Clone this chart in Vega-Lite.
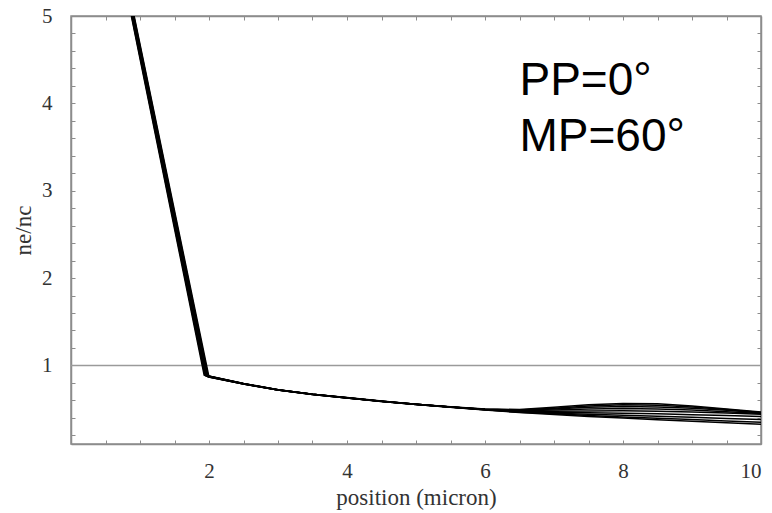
{
  "$schema": "https://vega.github.io/schema/vega-lite/v6.json",
  "width": 690,
  "height": 428,
  "autosize": {"type": "none"},
  "padding": {"left": 71, "top": 16, "right": 11, "bottom": 69},
  "background": "white",
  "config": {
    "view": {"stroke": "#8c8c8c", "strokeWidth": 1.5},
    "axis": {
      "grid": false,
      "domainColor": "#8c8c8c",
      "domainWidth": 1.5,
      "tickColor": "#8c8c8c",
      "tickWidth": 1,
      "tickSize": -4,
      "labelFont": "Liberation Serif",
      "labelFontSize": 21,
      "labelColor": "#333333",
      "titleFont": "Liberation Serif",
      "titleFontSize": 23,
      "titleFontWeight": "normal",
      "titleColor": "#333333",
      "labelOverlap": false
    }
  },
  "resolve": {"axis": {"x": "independent", "y": "independent"}},
  "layer": [
    {
      "data": {"values": [{"y": 1}]},
      "mark": {"type": "rule", "color": "#9a9a9a", "strokeWidth": 1.5},
      "encoding": {
        "y": {"field": "y", "type": "quantitative", "scale": {"domain": [0.1, 5], "nice": false, "zero": false}, "axis": null}
      }
    },
    {
      "data": {"values": [
        {"c":0,"x":0.875,"y":5},{"c":0,"x":1.93,"y":0.89},{"c":0,"x":2.5,"y":0.793},{"c":0,"x":3,"y":0.722},{"c":0,"x":3.5,"y":0.671},{"c":0,"x":4,"y":0.631},{"c":0,"x":4.5,"y":0.591},{"c":0,"x":5,"y":0.556},{"c":0,"x":5.5,"y":0.526},{"c":0,"x":6,"y":0.500},{"c":0,"x":6.5,"y":0.495},{"c":0,"x":7,"y":0.520},{"c":0,"x":7.5,"y":0.550},{"c":0,"x":8,"y":0.565},{"c":0,"x":8.5,"y":0.560},{"c":0,"x":9,"y":0.535},{"c":0,"x":9.5,"y":0.500},{"c":0,"x":10,"y":0.465},
        {"c":1,"x":0.88,"y":5},{"c":1,"x":1.94,"y":0.887},{"c":1,"x":2.5,"y":0.792},{"c":1,"x":3,"y":0.721},{"c":1,"x":3.5,"y":0.671},{"c":1,"x":4,"y":0.630},{"c":1,"x":4.5,"y":0.590},{"c":1,"x":5,"y":0.556},{"c":1,"x":5.5,"y":0.525},{"c":1,"x":6,"y":0.498},{"c":1,"x":6.5,"y":0.490},{"c":1,"x":7,"y":0.510},{"c":1,"x":7.5,"y":0.535},{"c":1,"x":8,"y":0.550},{"c":1,"x":8.5,"y":0.545},{"c":1,"x":9,"y":0.525},{"c":1,"x":9.5,"y":0.495},{"c":1,"x":10,"y":0.460},
        {"c":2,"x":0.885,"y":5},{"c":2,"x":1.95,"y":0.884},{"c":2,"x":2.5,"y":0.791},{"c":2,"x":3,"y":0.720},{"c":2,"x":3.5,"y":0.670},{"c":2,"x":4,"y":0.630},{"c":2,"x":4.5,"y":0.590},{"c":2,"x":5,"y":0.555},{"c":2,"x":5.5,"y":0.525},{"c":2,"x":6,"y":0.497},{"c":2,"x":6.5,"y":0.485},{"c":2,"x":7,"y":0.500},{"c":2,"x":7.5,"y":0.520},{"c":2,"x":8,"y":0.530},{"c":2,"x":8.5,"y":0.525},{"c":2,"x":9,"y":0.510},{"c":2,"x":9.5,"y":0.485},{"c":2,"x":10,"y":0.455},
        {"c":3,"x":0.89,"y":5},{"c":3,"x":1.96,"y":0.881},{"c":3,"x":2.5,"y":0.790},{"c":3,"x":3,"y":0.720},{"c":3,"x":3.5,"y":0.670},{"c":3,"x":4,"y":0.629},{"c":3,"x":4.5,"y":0.589},{"c":3,"x":5,"y":0.555},{"c":3,"x":5.5,"y":0.524},{"c":3,"x":6,"y":0.496},{"c":3,"x":6.5,"y":0.480},{"c":3,"x":7,"y":0.488},{"c":3,"x":7.5,"y":0.500},{"c":3,"x":8,"y":0.505},{"c":3,"x":8.5,"y":0.500},{"c":3,"x":9,"y":0.490},{"c":3,"x":9.5,"y":0.470},{"c":3,"x":10,"y":0.450},
        {"c":4,"x":0.895,"y":5},{"c":4,"x":1.97,"y":0.878},{"c":4,"x":2.5,"y":0.789},{"c":4,"x":3,"y":0.719},{"c":4,"x":3.5,"y":0.669},{"c":4,"x":4,"y":0.629},{"c":4,"x":4.5,"y":0.589},{"c":4,"x":5,"y":0.554},{"c":4,"x":5.5,"y":0.524},{"c":4,"x":6,"y":0.495},{"c":4,"x":6.5,"y":0.476},{"c":4,"x":7,"y":0.475},{"c":4,"x":7.5,"y":0.478},{"c":4,"x":8,"y":0.480},{"c":4,"x":8.5,"y":0.475},{"c":4,"x":9,"y":0.465},{"c":4,"x":9.5,"y":0.455},{"c":4,"x":10,"y":0.440},
        {"c":5,"x":0.90,"y":5},{"c":5,"x":1.975,"y":0.875},{"c":5,"x":2.5,"y":0.789},{"c":5,"x":3,"y":0.719},{"c":5,"x":3.5,"y":0.669},{"c":5,"x":4,"y":0.628},{"c":5,"x":4.5,"y":0.588},{"c":5,"x":5,"y":0.554},{"c":5,"x":5.5,"y":0.523},{"c":5,"x":6,"y":0.494},{"c":5,"x":6.5,"y":0.472},{"c":5,"x":7,"y":0.462},{"c":5,"x":7.5,"y":0.457},{"c":5,"x":8,"y":0.452},{"c":5,"x":8.5,"y":0.445},{"c":5,"x":9,"y":0.435},{"c":5,"x":9.5,"y":0.425},{"c":5,"x":10,"y":0.415},
        {"c":6,"x":0.905,"y":5},{"c":6,"x":1.98,"y":0.872},{"c":6,"x":2.5,"y":0.788},{"c":6,"x":3,"y":0.718},{"c":6,"x":3.5,"y":0.668},{"c":6,"x":4,"y":0.628},{"c":6,"x":4.5,"y":0.588},{"c":6,"x":5,"y":0.553},{"c":6,"x":5.5,"y":0.523},{"c":6,"x":6,"y":0.493},{"c":6,"x":6.5,"y":0.468},{"c":6,"x":7,"y":0.452},{"c":6,"x":7.5,"y":0.440},{"c":6,"x":8,"y":0.430},{"c":6,"x":8.5,"y":0.418},{"c":6,"x":9,"y":0.405},{"c":6,"x":9.5,"y":0.392},{"c":6,"x":10,"y":0.380},
        {"c":7,"x":0.91,"y":5},{"c":7,"x":1.99,"y":0.869},{"c":7,"x":2.5,"y":0.787},{"c":7,"x":3,"y":0.718},{"c":7,"x":3.5,"y":0.668},{"c":7,"x":4,"y":0.627},{"c":7,"x":4.5,"y":0.587},{"c":7,"x":5,"y":0.553},{"c":7,"x":5.5,"y":0.522},{"c":7,"x":6,"y":0.492},{"c":7,"x":6.5,"y":0.464},{"c":7,"x":7,"y":0.445},{"c":7,"x":7.5,"y":0.425},{"c":7,"x":8,"y":0.410},{"c":7,"x":8.5,"y":0.395},{"c":7,"x":9,"y":0.380},{"c":7,"x":9.5,"y":0.362},{"c":7,"x":10,"y":0.350},
        {"c":8,"x":0.915,"y":5},{"c":8,"x":2.0,"y":0.866},{"c":8,"x":2.5,"y":0.786},{"c":8,"x":3,"y":0.717},{"c":8,"x":3.5,"y":0.667},{"c":8,"x":4,"y":0.627},{"c":8,"x":4.5,"y":0.587},{"c":8,"x":5,"y":0.552},{"c":8,"x":5.5,"y":0.522},{"c":8,"x":6,"y":0.490},{"c":8,"x":6.5,"y":0.460},{"c":8,"x":7,"y":0.438},{"c":8,"x":7.5,"y":0.415},{"c":8,"x":8,"y":0.397},{"c":8,"x":8.5,"y":0.378},{"c":8,"x":9,"y":0.360},{"c":8,"x":9.5,"y":0.342},{"c":8,"x":10,"y":0.325}
      ]},
      "mark": {"type": "line", "color": "black", "strokeWidth": 1.5, "clip": true},
      "encoding": {
        "x": {"field": "x", "type": "quantitative", "scale": {"domain": [0, 10], "nice": false, "zero": false},
          "axis": {"orient": "bottom", "values": [0.5,1,1.5,2,2.5,3,3.5,4,4.5,5,5.5,6,6.5,7,7.5,8,8.5,9,9.5,10],
            "labelExpr": "datum.value % 2 == 0 ? format(datum.value, 'd') : ''", "labelPadding": 20, "title": "position (micron)", "titlePadding": 5}},
        "y": {"field": "y", "type": "quantitative", "scale": {"domain": [0.1, 5], "nice": false, "zero": false},
          "axis": {"orient": "left", "values": [0.2,0.4,0.6,0.8,1,1.2,1.4,1.6,1.8,2,2.2,2.4,2.6,2.8,3,3.2,3.4,3.6,3.8,4,4.2,4.4,4.6,4.8,5],
            "labelExpr": "datum.value % 1 == 0 ? format(datum.value, 'd') : ''", "labelPadding": 23, "title": "ne/nc", "titlePadding": 6}},
        "detail": {"field": "c", "type": "nominal"}
      }
    },
    {
      "data": {"values": [
        {"x": 6.5, "y": 4.10, "t": "PP=0°"},
        {"x": 6.5, "y": 3.45, "t": "MP=60°"}
      ]},
      "mark": {"type": "text", "font": "Liberation Sans", "fontSize": 46, "align": "left", "baseline": "alphabetic", "color": "black"},
      "encoding": {
        "x": {"field": "x", "type": "quantitative", "scale": {"domain": [0, 10], "nice": false, "zero": false},
          "axis": {"orient": "top", "values": [0.5,1,1.5,2,2.5,3,3.5,4,4.5,5,5.5,6,6.5,7,7.5,8,8.5,9,9.5], "labels": false, "title": null}},
        "y": {"field": "y", "type": "quantitative", "scale": {"domain": [0.1, 5], "nice": false, "zero": false},
          "axis": {"orient": "right", "values": [0.2,0.4,0.6,0.8,1,1.2,1.4,1.6,1.8,2,2.2,2.4,2.6,2.8,3,3.2,3.4,3.6,3.8,4,4.2,4.4,4.6,4.8], "labels": false, "title": null}},
        "text": {"field": "t", "type": "nominal"}
      }
    }
  ]
}
